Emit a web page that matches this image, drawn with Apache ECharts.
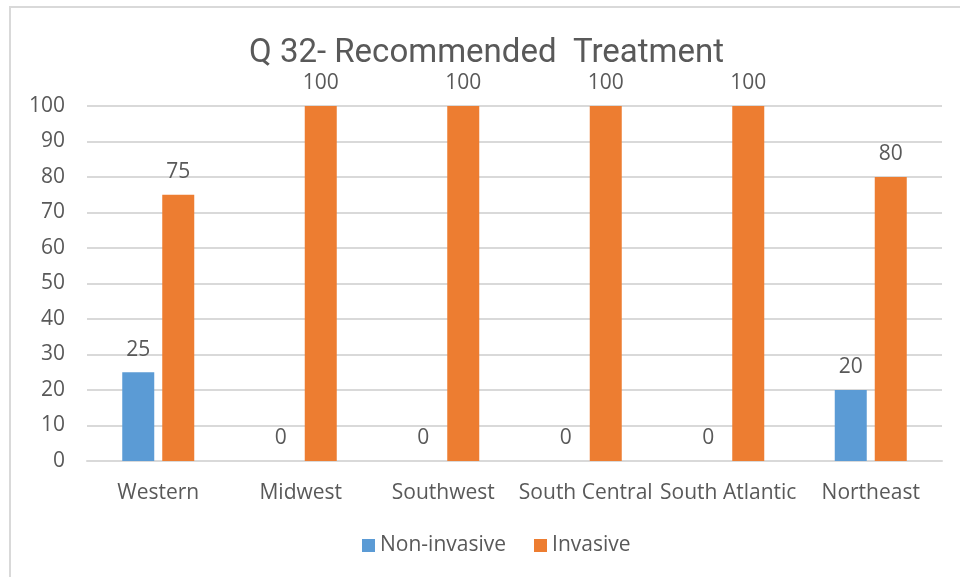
<!DOCTYPE html>
<html><head><meta charset="utf-8">
<style>html,body{margin:0;padding:0;background:#fff}#c{width:960px;height:577px}</style>
<script src="https://cdn.jsdelivr.net/npm/echarts@6/dist/echarts.min.js"></script>
</head><body><div id="c"></div>
<script>
const categories = ['Western','Midwest','Southwest','South Central','South Atlantic','Northeast'];
const nonInvasive = [25, 0, 0, 0, 0, 20];
const invasive = [75, 100, 100, 100, 100, 80];
const seriesNames = ['Non-invasive','Invasive'];
const titleText = 'Q 32- Recommended  Treatment';

const chart = echarts.init(document.getElementById('c'), null, {renderer:'canvas'});
const txt = '#595959';
const font = 'Open Sans';
const lbl = {show:true, position:'top', distance:12, color:txt, fontFamily:font, fontSize:21};
chart.setOption({
  animation:false,
  backgroundColor:'#fff',
  graphic:[{type:'rect', shape:{x:10,y:7,width:970,height:600}, style:{fill:'none', stroke:'#d9d9d9', lineWidth:2}, silent:true}],
  title:{text:titleText, left:244, top:32, textStyle:{color:txt, fontFamily:'Roboto', fontWeight:'normal', fontSize:33}},
  legend:{data:seriesNames, bottom:16, left:357, itemWidth:13, itemHeight:13, itemGap:28, icon:'rect',
    textStyle:{color:txt, fontFamily:font, fontSize:21}},
  grid:{left:87, right:18, top:106, bottom:116, containLabel:false},
  xAxis:{type:'category', data:categories, axisLine:{show:true, lineStyle:{color:'#d9d9d9', width:2}}, axisTick:{show:false},
    axisLabel:{color:txt, fontFamily:font, fontSize:21, margin:22, interval:0}},
  yAxis:{type:'value', min:0, max:100, interval:10, axisLine:{show:false}, axisTick:{show:false},
    axisLabel:{color:txt, fontFamily:font, fontSize:21, margin:22},
    splitLine:{lineStyle:{color:'#d9d9d9', width:2}}},
  series:[
    {name:seriesNames[0], type:'bar', data:nonInvasive, barWidth:32, barGap:'25%', itemStyle:{color:'#5b9bd5'}, label:lbl},
    {name:seriesNames[1], type:'bar', data:invasive, barWidth:32, barGap:'25%', itemStyle:{color:'#ed7d31'}, label:lbl}
  ]
});
</script></body></html>
